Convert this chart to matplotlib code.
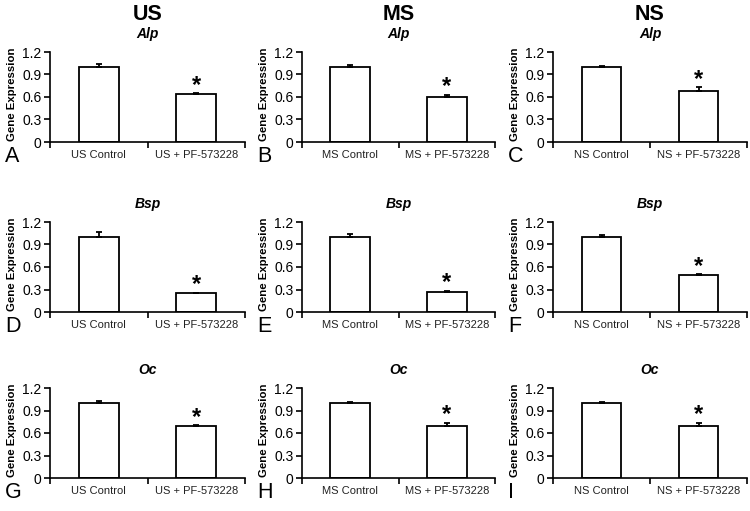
import numpy as np
import matplotlib.pyplot as plt

plt.rcParams['font.family'] = ['Liberation Sans', 'DejaVu Sans']

groups = ["US", "MS", "NS"]
genes = ["Alp", "Bsp", "Oc"]
letters = [["A", "B", "C"], ["D", "E", "F"], ["G", "H", "I"]]

# rows = genes, columns = groups; values are [control, treated]
means = {
    "Alp": [[1.0, 0.64], [1.0, 0.60], [1.0, 0.68]],
    "Bsp": [[1.0, 0.26], [1.0, 0.27], [1.0, 0.49]],
    "Oc":  [[1.0, 0.69], [1.0, 0.70], [1.0, 0.70]],
}
errs = {
    "Alp": [[0.04, 0.015], [0.02, 0.03], [0.01, 0.05]],
    "Bsp": [[0.07, 0.0], [0.04, 0.015], [0.02, 0.015]],
    "Oc":  [[0.03, 0.015], [0.02, 0.04], [0.02, 0.04]],
}
yticks = [0, 0.3, 0.6, 0.9, 1.2]
ytick_labels = ["0", "0.3", "0.6", "0.9", "1.2"]

W, H = 750, 511
fig = plt.figure(figsize=(7.5, 5.11), dpi=100)

col_x = [(50, 245), (302, 495), (553, 747)]
row_y = [(52, 142), (222, 312), (388, 478)]

for r, gene in enumerate(genes):
    for c, grp in enumerate(groups):
        x0, x1 = col_x[c]
        y0, y1 = row_y[r]
        ax = fig.add_axes([x0 / W, 1 - y1 / H, (x1 - x0) / W, (y1 - y0) / H])
        vals = means[gene][c]
        e = errs[gene][c]
        pos = np.arange(2)
        ax.bar(pos, vals, width=0.41, color="white", edgecolor="black", linewidth=1.3)
        ax.errorbar(pos, vals, yerr=[[0, 0], e], fmt="none", ecolor="black",
                    elinewidth=1.3, capsize=2, capthick=1.3)
        ax.text(1, vals[1] + e[1] - 0.05, "*", ha="center", va="bottom",
                fontsize=17, fontweight="bold")
        ax.set_xlim(-0.5, 1.5)
        ax.set_ylim(0, 1.2)
        ax.set_yticks(yticks)
        ax.set_yticklabels(ytick_labels, fontsize=10)
        ax.set_xticks(pos)
        ax.set_xticklabels([grp + " Control", grp + " + PF-573228"], fontsize=8,
                           color="#222222")
        ax.tick_params(axis="x", length=0, pad=6)
        ax.set_xticks([-0.5, 0.5, 1.5], minor=True)
        ax.tick_params(axis="x", which="minor", length=4, width=1.2)
        ax.tick_params(axis="y", length=4, width=1.2, pad=2)
        for s in ["top", "right"]:
            ax.spines[s].set_visible(False)
        for s in ["left", "bottom"]:
            ax.spines[s].set_linewidth(1.2)
        ax.set_ylabel("Gene Expression", fontsize=8.2, fontweight="bold")
        ax.yaxis.set_label_coords(-0.17, 0.53)
        ax.set_title(gene, fontsize=10, fontweight="bold", style="italic", pad=10)
        if r == 0:
            fig.text((x0 + x1) / 2 / W, 1 - 14 / H, grp, ha="center", va="center",
                     fontsize=15.5, fontweight="bold")
        fig.text((x0 - 45) / W, 1 - (y1 + 14) / H, letters[r][c], ha="left",
                 va="center", fontsize=15.5)

plt.savefig("out.png", dpi=100)
